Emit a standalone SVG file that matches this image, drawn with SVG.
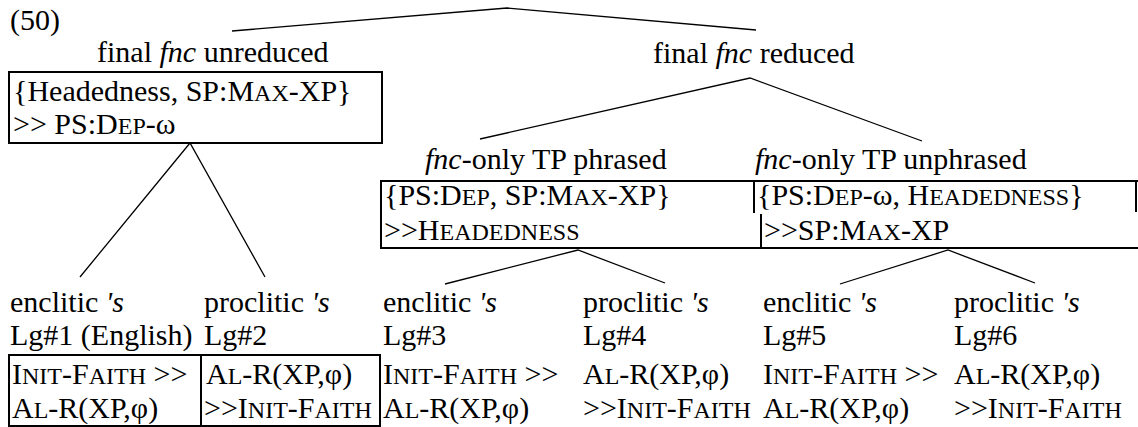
<svg xmlns="http://www.w3.org/2000/svg" width="1138" height="427" viewBox="0 0 1138 427">
  <style>
    .t { font-family: "Liberation Serif", "Times New Roman", serif; font-size: 30px; fill: #000; }
    .sc { font-size: 24px; }
    .it { font-style: italic; }
    .edge { stroke: #000; stroke-width: 1.3; fill: none; }
    .box { stroke: #000; stroke-width: 2; fill: none; }
  </style>

  <rect width="1138" height="427" fill="#fff"/>

  <!-- example number -->
  <g id="example-number">
    <text class="t" x="10" y="30">(50)</text>
  </g>

  <!-- tree branches -->
  <g id="connectors">
    <polyline class="edge" points="232,31 507,8 756,30"/>
    <polyline class="edge" points="80,277 190,143 265,277"/>
    <polyline class="edge" points="480,139 750,78 922,141"/>
    <polyline class="edge" points="445,284 578,250 665,283"/>
    <polyline class="edge" points="840,284 948,250 1035,283"/>
  </g>

  <!-- final fnc unreduced -->
  <g id="node-unreduced">
    <text class="t" x="97" y="62">final <tspan class="it">fnc</tspan> unreduced</text>
    <rect class="box" x="9" y="72" width="373" height="71"/>
    <text class="t" x="13" y="101">{Headedness, SP:M<tspan class="sc">AX</tspan>-XP}</text>
    <text class="t" x="13" y="134">&gt;&gt; PS:D<tspan class="sc">EP</tspan>-ω</text>
  </g>

  <!-- final fnc reduced -->
  <g id="node-reduced">
    <text class="t" x="653" y="63">final <tspan class="it">fnc</tspan> reduced</text>
  </g>

  <!-- shared table for the two reduced sub-cases -->
  <g id="table-reduced">
    <line class="box" x1="381" y1="181" x2="1138" y2="181"/>
    <line class="box" x1="381" y1="180" x2="381" y2="249"/>
    <line class="box" x1="381" y1="248" x2="1138" y2="248"/>
    <line class="box" x1="754" y1="181" x2="754" y2="213"/>
    <line class="box" x1="761" y1="214" x2="761" y2="248"/>
    <line class="box" x1="1136" y1="181" x2="1136" y2="212"/>
  </g>

  <g id="node-phrased">
    <text class="t" x="425" y="169"><tspan class="it">fnc</tspan>-only TP phrased</text>
    <text class="t" x="384" y="205">{PS:D<tspan class="sc">EP</tspan>, SP:M<tspan class="sc">AX</tspan>-XP}</text>
    <text class="t" x="384" y="240">&gt;&gt;H<tspan class="sc">EADEDNESS</tspan></text>
  </g>

  <g id="node-unphrased">
    <text class="t" x="755" y="169"><tspan class="it">fnc</tspan>-only TP unphrased</text>
    <text class="t" x="757" y="205">{PS:D<tspan class="sc">EP</tspan>-ω, H<tspan class="sc">EADEDNESS</tspan>}</text>
    <text class="t" x="764" y="240">&gt;&gt;SP:M<tspan class="sc">AX</tspan>-XP</text>
  </g>

  <!-- leaves -->
  <g id="leaf-table-1-2">
    <rect class="box" x="9" y="355" width="371" height="71"/>
    <line class="box" x1="201" y1="355" x2="201" y2="426"/>
  </g>

  <g id="leaf-lg1">
    <text class="t" x="10" y="312">enclitic <tspan class="it">'s</tspan></text>
    <text class="t" x="10" y="345">Lg#1 (English)</text>
    <text class="t" x="12" y="384">I<tspan class="sc">NIT</tspan>-F<tspan class="sc">AITH</tspan> &gt;&gt;</text>
    <text class="t" x="12" y="418">A<tspan class="sc">L</tspan>-R(XP,φ)</text>
  </g>

  <g id="leaf-lg2">
    <text class="t" x="204" y="312">proclitic <tspan class="it">'s</tspan></text>
    <text class="t" x="204" y="345">Lg#2</text>
    <text class="t" x="206" y="384">A<tspan class="sc">L</tspan>-R(XP,φ)</text>
    <text class="t" x="204" y="418">&gt;&gt;I<tspan class="sc">NIT</tspan>-F<tspan class="sc">AITH</tspan></text>
  </g>

  <g id="leaf-lg3">
    <text class="t" x="383" y="312">enclitic <tspan class="it">'s</tspan></text>
    <text class="t" x="383" y="345">Lg#3</text>
    <text class="t" x="383" y="384">I<tspan class="sc">NIT</tspan>-F<tspan class="sc">AITH</tspan> &gt;&gt;</text>
    <text class="t" x="383" y="418">A<tspan class="sc">L</tspan>-R(XP,φ)</text>
  </g>

  <g id="leaf-lg4">
    <text class="t" x="583" y="312">proclitic <tspan class="it">'s</tspan></text>
    <text class="t" x="583" y="345">Lg#4</text>
    <text class="t" x="583" y="384">A<tspan class="sc">L</tspan>-R(XP,φ)</text>
    <text class="t" x="583" y="418">&gt;&gt;I<tspan class="sc">NIT</tspan>-F<tspan class="sc">AITH</tspan></text>
  </g>

  <g id="leaf-lg5">
    <text class="t" x="763" y="312">enclitic <tspan class="it">'s</tspan></text>
    <text class="t" x="763" y="345">Lg#5</text>
    <text class="t" x="763" y="384">I<tspan class="sc">NIT</tspan>-F<tspan class="sc">AITH</tspan> &gt;&gt;</text>
    <text class="t" x="763" y="418">A<tspan class="sc">L</tspan>-R(XP,φ)</text>
  </g>

  <g id="leaf-lg6">
    <text class="t" x="954" y="312">proclitic <tspan class="it">'s</tspan></text>
    <text class="t" x="954" y="345">Lg#6</text>
    <text class="t" x="954" y="384">A<tspan class="sc">L</tspan>-R(XP,φ)</text>
    <text class="t" x="954" y="418">&gt;&gt;I<tspan class="sc">NIT</tspan>-F<tspan class="sc">AITH</tspan></text>
  </g>
</svg>
